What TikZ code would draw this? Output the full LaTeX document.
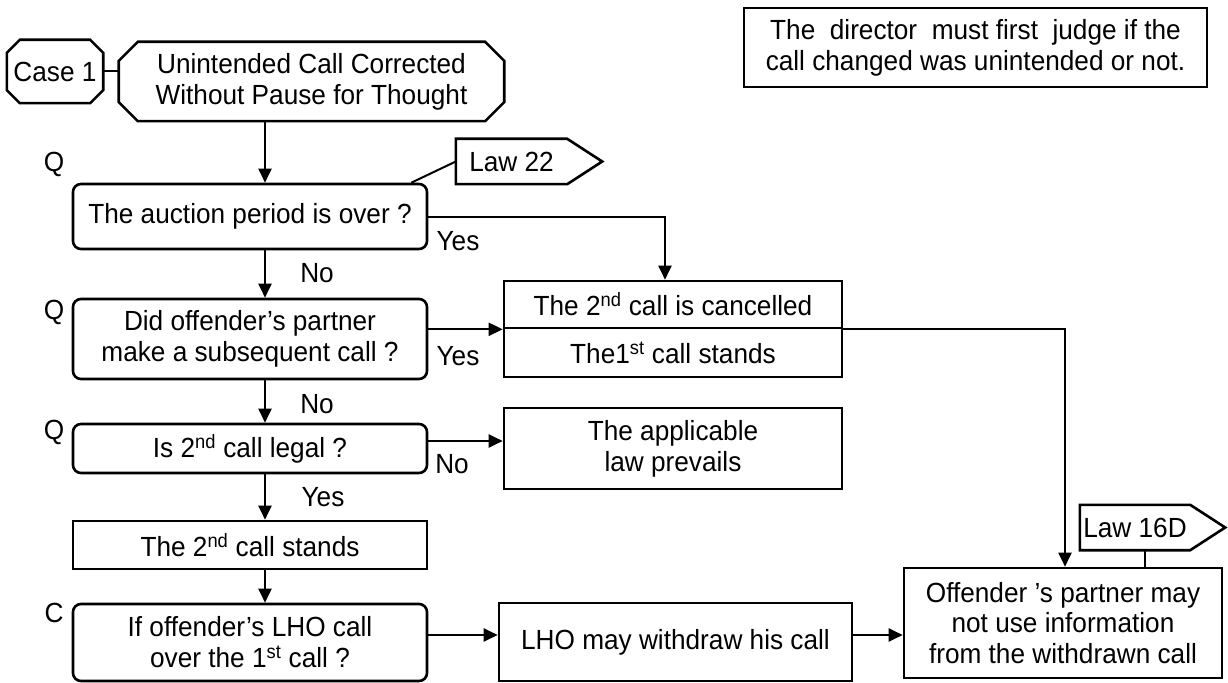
\documentclass[tikz,border=0pt]{standalone}
\usepackage{fontspec}
\setmainfont{Liberation Sans}[FakeStretch=0.946]
\usetikzlibrary{calc,arrows.meta}
\newcommand\txtfont{\fontsize{27.8}{31}\selectfont}
\tikzset{
  boxline/.style={line width=2.6bp},
  box/.style={draw, boxline, inner sep=0pt, align=center, font=\txtfont},
  rbox/.style={box, rounded corners=8bp},
  plain/.style={inner sep=0pt, align=center, font=\txtfont},
  arr/.style={line width=2bp, -{Triangle[length=14bp,width=13bp]}},
  con/.style={line width=2bp},
  lbl/.style={inner sep=0pt, font=\txtfont},
}
\newcommand\drawoct[2]{%
  \draw[boxline] ($(#1.north west)+(#2,0)$) -- ($(#1.north east)+(-#2,0)$) -- ($(#1.north east)+(0,#2)$) -- ($(#1.south east)+(0,-#2)$) -- ($(#1.south east)+(-#2,0)$) -- ($(#1.south west)+(#2,0)$) -- ($(#1.south west)+(0,-#2)$) -- ($(#1.north west)+(0,#2)$) -- cycle;}
\newcommand\drawsig[2]{%
  \draw[boxline] (#1.north west) -- (#1.north east) -- ($(#1.east)+(#2,0)$) -- (#1.south east) -- (#1.south west) -- cycle;}
\begin{document}
\begin{tikzpicture}[x=1bp,y=-1bp]
\useasboundingbox (0,0) rectangle (1228,683);
% top nodes
\node[plain, minimum width=96bp, minimum height=63bp] (case1) at (55,71.5) {Case 1};
\drawoct{case1}{13}
\node[plain, minimum width=385bp, minimum height=79bp] (main) at (311.5,81.5) {Unintended Call Corrected\\Without Pause for Thought};
\drawoct{main}{19}
\node[box, minimum width=463bp, minimum height=79bp] (note) at (975.5,47.5) {The\ \ director\ \ must first\ \ judge if the\\call changed was unintended or not.};
\node[plain, minimum width=111bp, minimum height=45bp] (l22) at (511.5,161.5) {Law 22};
\drawsig{l22}{35}
% left column
\node[rbox, minimum width=354bp, minimum height=65bp] (auc) at (250,216.5) {The auction period is over ?};
\node[rbox, minimum width=354bp, minimum height=80bp] (did) at (250,339) {Did offender’s partner\\make a subsequent call ?};
\node[rbox, minimum width=354bp, minimum height=49bp] (legal) at (250,448.5) {Is 2\textsuperscript{nd} call legal ?};
\node[box, minimum width=354bp, minimum height=48bp] (stands) at (250,545) {The 2\textsuperscript{nd} call stands};
\node[rbox, minimum width=354bp, minimum height=77bp] (cbox) at (250,642.5) {If offender’s LHO call\\over the 1\textsuperscript{st} call ?};
% middle column
\node[box, minimum width=338bp, minimum height=47bp] (canA) at (673,304.5) {The 2\textsuperscript{nd} call is cancelled};
\node[box, minimum width=338bp, minimum height=49bp] (canB) at (673,352.5) {The1\textsuperscript{st} call stands};
\node[box, minimum width=338bp, minimum height=81bp] (appl) at (673,448.5) {The applicable\\law prevails};
\node[box, minimum width=353bp, minimum height=78bp] (lho) at (675.5,642) {LHO may withdraw his call};
% right column
\node[box, minimum width=318bp, minimum height=110bp] (off) at (1063,623) {Offender ’s partner may\\not use information\\from the withdrawn call};
\node[plain, minimum width=110bp, minimum height=45bp] (l16) at (1135,527.5) {Law 16D};
\drawsig{l16}{35}
% labels
\node[lbl] (q1) at (54,164) {Q};
\node[lbl] (q2) at (54,312) {Q};
\node[lbl] (q3) at (54,432) {Q};
\node[lbl] (c1) at (54,613) {C};
\node[lbl] (yes1) at (458,241) {Yes};
\node[lbl] (no1) at (317,273) {No};
\node[lbl] (yes2) at (458,356) {Yes};
\node[lbl] (no2) at (317,404) {No};
\node[lbl] (no3) at (452,464) {No};
\node[lbl] (yes3) at (323,497) {Yes};
% connectors
\coordinate (xa) at (265,0);
\coordinate (xb) at (665,0);
\coordinate (xc) at (1065,0);
\coordinate (xd) at (1145,0);
\coordinate (ya) at (0,635);
\coordinate (yb) at (0,441);
\coordinate (l22end) at ($(auc.north east)+(-17,0)$);
\draw[con] (case1.east) -- (case1.east -| main.west);
\draw[arr] (main.south -| xa) -- (auc.north -| xa);
\draw[con] (l22.west) -- (l22end);
\draw[arr] (auc.east) -| (xb |- canA.north);
\draw[arr] (auc.south -| xa) -- (did.north -| xa);
\draw[arr] (canA.south west -| did.east) -- (canA.south west);
\draw[arr] (canA.south east) -| (xc |- off.north);
\draw[arr] (did.south -| xa) -- (legal.north -| xa);
\draw[arr] (legal.east |- yb) -- (appl.west |- yb);
\draw[arr] (legal.south -| xa) -- (stands.north -| xa);
\draw[arr] (stands.south -| xa) -- (cbox.north -| xa);
\draw[arr] (cbox.east |- ya) -- (lho.west |- ya);
\draw[arr] (lho.east |- ya) -- (off.west |- ya);
\draw[con] (l16.south -| xd) -- (off.north -| xd);
\end{tikzpicture}
\end{document}
